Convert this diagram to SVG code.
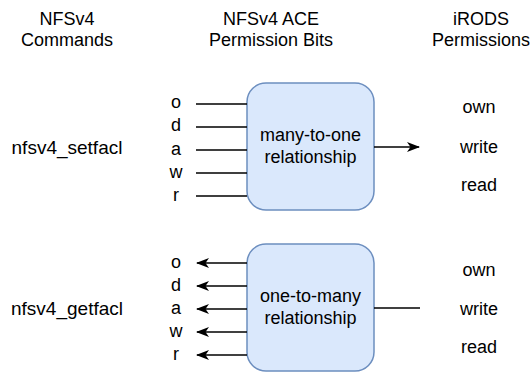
<svg xmlns="http://www.w3.org/2000/svg" width="531" height="373" viewBox="0 0 531 373">
<style>
text{font-family:"Liberation Sans",Arial,Helvetica,sans-serif;font-size:18px;fill:#000}
.m{text-anchor:middle}
.c{font-size:19px}
.box{fill:#dae8fc;stroke:#6c8ebf;stroke-width:1.5}
.ln{stroke:#000;stroke-width:1.5;fill:none}
</style>
<defs>
<marker id="ah" viewBox="0 0 13 10" refX="12" refY="5" markerWidth="13" markerHeight="10" markerUnits="userSpaceOnUse" orient="auto">
<path d="M0,0 L13,5 L0,10 L3.5,5 z" fill="#000"/>
</marker>
</defs>
<rect width="531" height="373" fill="#fff"/>
<g id="headers">
<text class="m" x="67" y="25">NFSv4</text>
<text class="m" x="67" y="46">Commands</text>
<text class="m" x="271" y="25">NFSv4 ACE</text>
<text class="m" x="271" y="46">Permission Bits</text>
<text class="m" x="481" y="25">iRODS</text>
<text class="m" x="481" y="46">Permissions</text>
</g>
<g id="cmd-set"><text class="m c" x="67" y="154">nfsv4_setfacl</text></g>
<g id="cmd-get"><text class="m c" x="67" y="315">nfsv4_getfacl</text></g>
<g id="bits-top">
<text class="m" x="176" y="108">o</text>
<text class="m" x="176" y="131">d</text>
<text class="m" x="176" y="155">a</text>
<text class="m" x="176" y="178">w</text>
<text class="m" x="176" y="201">r</text>
</g>
<g id="bits-bottom">
<text class="m" x="176" y="268">o</text>
<text class="m" x="176" y="291">d</text>
<text class="m" x="176" y="314">a</text>
<text class="m" x="176" y="337">w</text>
<text class="m" x="176" y="360">r</text>
</g>
<g id="many-to-one">
<rect class="box" x="247" y="83" width="127" height="127" rx="19" ry="19"/>
<text class="m" x="310.5" y="141">many-to-one</text>
<text class="m" x="310.5" y="163">relationship</text>
</g>
<g id="one-to-many">
<rect class="box" x="247" y="244" width="127" height="127" rx="19" ry="19"/>
<text class="m" x="310.5" y="302">one-to-many</text>
<text class="m" x="310.5" y="324">relationship</text>
</g>
<g id="perm-top">
<text class="m" x="479" y="113">own</text>
<text class="m" x="479" y="153">write</text>
<text class="m" x="479" y="191">read</text>
</g>
<g id="perm-bottom">
<text class="m" x="479" y="276">own</text>
<text class="m" x="479" y="315">write</text>
<text class="m" x="479" y="353">read</text>
</g>
<g id="connectors">
<path class="ln" d="M196,104H247M196,127H247M196,150H247M196,173H247M196,196H247"/>
<path class="ln" d="M374,147H419" marker-end="url(#ah)"/>
<path class="ln" d="M247,263H197" marker-end="url(#ah)"/>
<path class="ln" d="M247,286H197" marker-end="url(#ah)"/>
<path class="ln" d="M247,309H197" marker-end="url(#ah)"/>
<path class="ln" d="M247,332H197" marker-end="url(#ah)"/>
<path class="ln" d="M247,355H197" marker-end="url(#ah)"/>
<path class="ln" d="M374,308H420"/>
</g>
</svg>
